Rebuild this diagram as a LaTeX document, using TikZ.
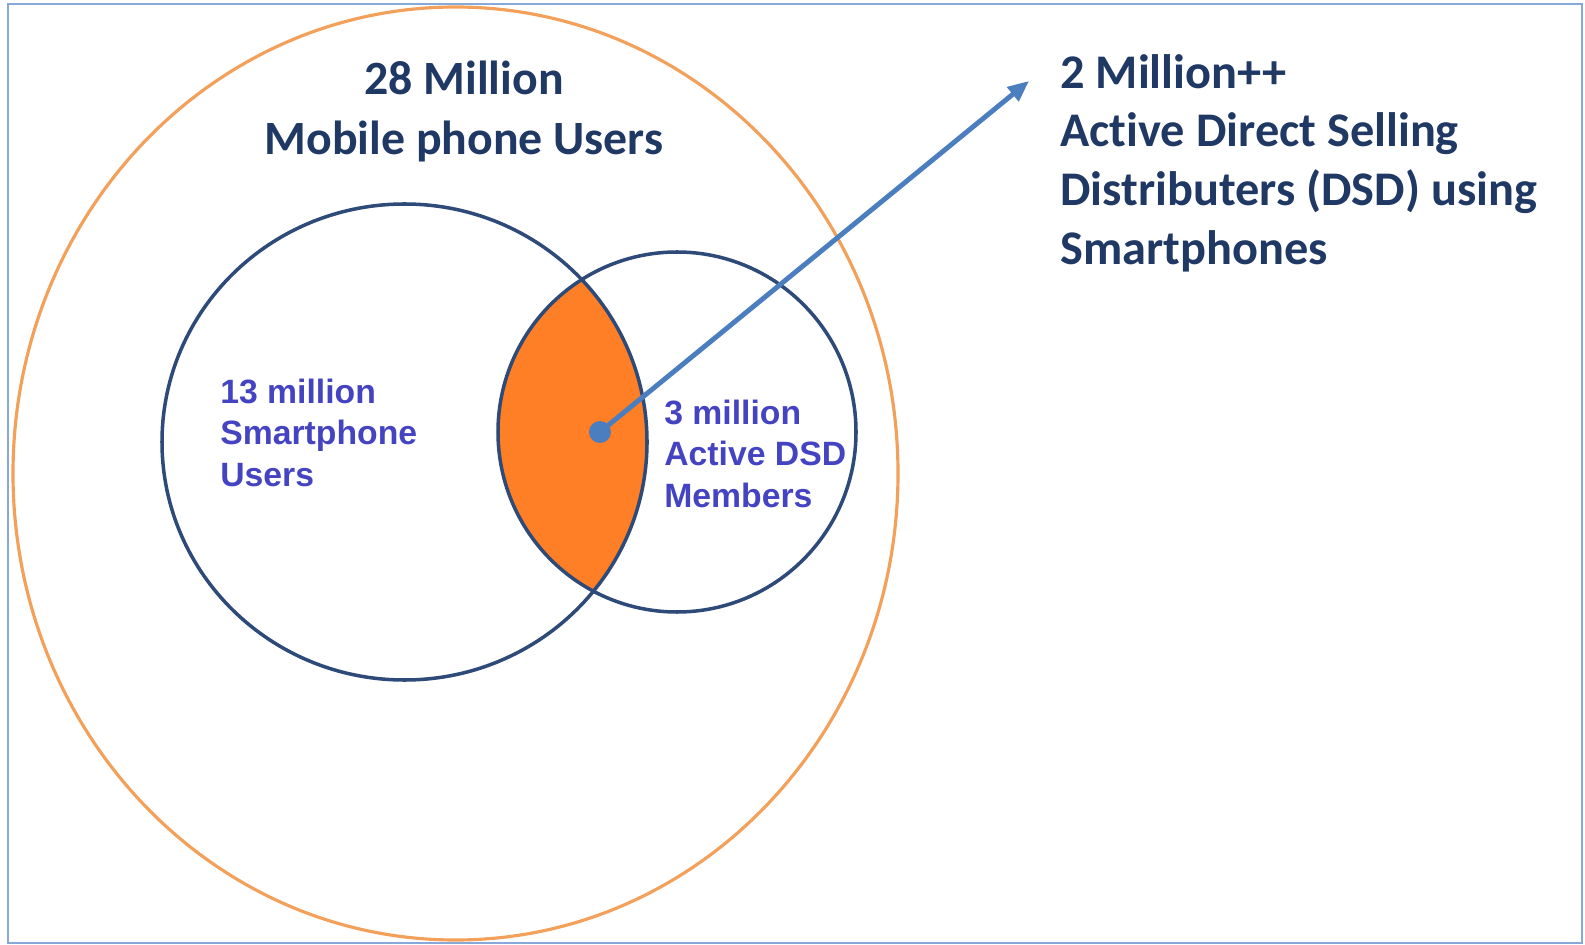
\documentclass[tikz,border=0pt]{standalone}
\usepackage{fontspec}
\setmainfont{Carlito}[Ligatures=NoCommon]
\newfontfamily\labelfont{Liberation Sans}
\usetikzlibrary{arrows.meta}
\definecolor{titleblue}{HTML}{1F3864}
\definecolor{labelblue}{HTML}{4444C2}
\definecolor{ringblue}{HTML}{2E4A78}
\definecolor{ringorange}{HTML}{F2A05A}
\definecolor{lensorange}{HTML}{FF7F27}
\definecolor{arrowblue}{HTML}{4A7EBE}
\definecolor{framecol}{HTML}{86A9DA}

\begin{document}
\begin{tikzpicture}[x=0.02cm, y=-0.02cm,
	title/.style={font=\fontsize{27.2}{34}\selectfont\bfseries, text=titleblue, inner sep=0},
	count/.style={font=\labelfont\fontsize{19.2}{23.4}\selectfont\bfseries, text=labelblue, align=left, inner sep=0, anchor=north west},
	ring/.style={draw=ringblue, line width=2pt}]

	\useasboundingbox (0,0) rectangle (1585,945);

	%frame
	\draw [framecol, line width=1.1pt] (8,4) rectangle (1582,943);

	%circles
	\coordinate (mobile) at (455.5,473.5);
	\coordinate (smart) at (404.5,442);
	\coordinate (dsd) at (677,432);
	\begin{scope}
		\clip (smart) ellipse [x radius=242.5, y radius=238];
		\fill [lensorange] (dsd) ellipse [x radius=179, y radius=180];
	\end{scope}
	\draw [ringorange, line width=1.8pt] (mobile) ellipse [x radius=442.5, y radius=466.5];
	\draw [ring] (smart) ellipse [x radius=242.5, y radius=238];
	\draw [ring] (dsd) ellipse [x radius=179, y radius=180];

	%labels
	\node [title, align=center, anchor=north] (mobiletext) at (464,61) {28 Million\\Mobile phone Users};
	\node [title, align=left, anchor=north west, font=\fontsize{27.5}{33.4}\selectfont\bfseries] (dsdtext) at (1060,54)
		{2 Million++\\Active Direct Selling\\Distributers (DSD) using\\Smartphones};
	\node [count] (smarttext) at (220,379) {13 million\\Smartphone\\Users};
	\node [count] (dsdcount) at (664,400) {3 million\\Active DSD\\Members};

	%arrow
	\node [circle, fill=arrowblue, minimum size=12.5pt, inner sep=0] (dot) at (600,432) {};
	\coordinate (tip) at (1029,81);
	\draw [arrowblue, line width=2.8pt, -{Triangle[length=12pt, width=10pt]}] (dot.center) -- (tip);

\end{tikzpicture}
\end{document}
